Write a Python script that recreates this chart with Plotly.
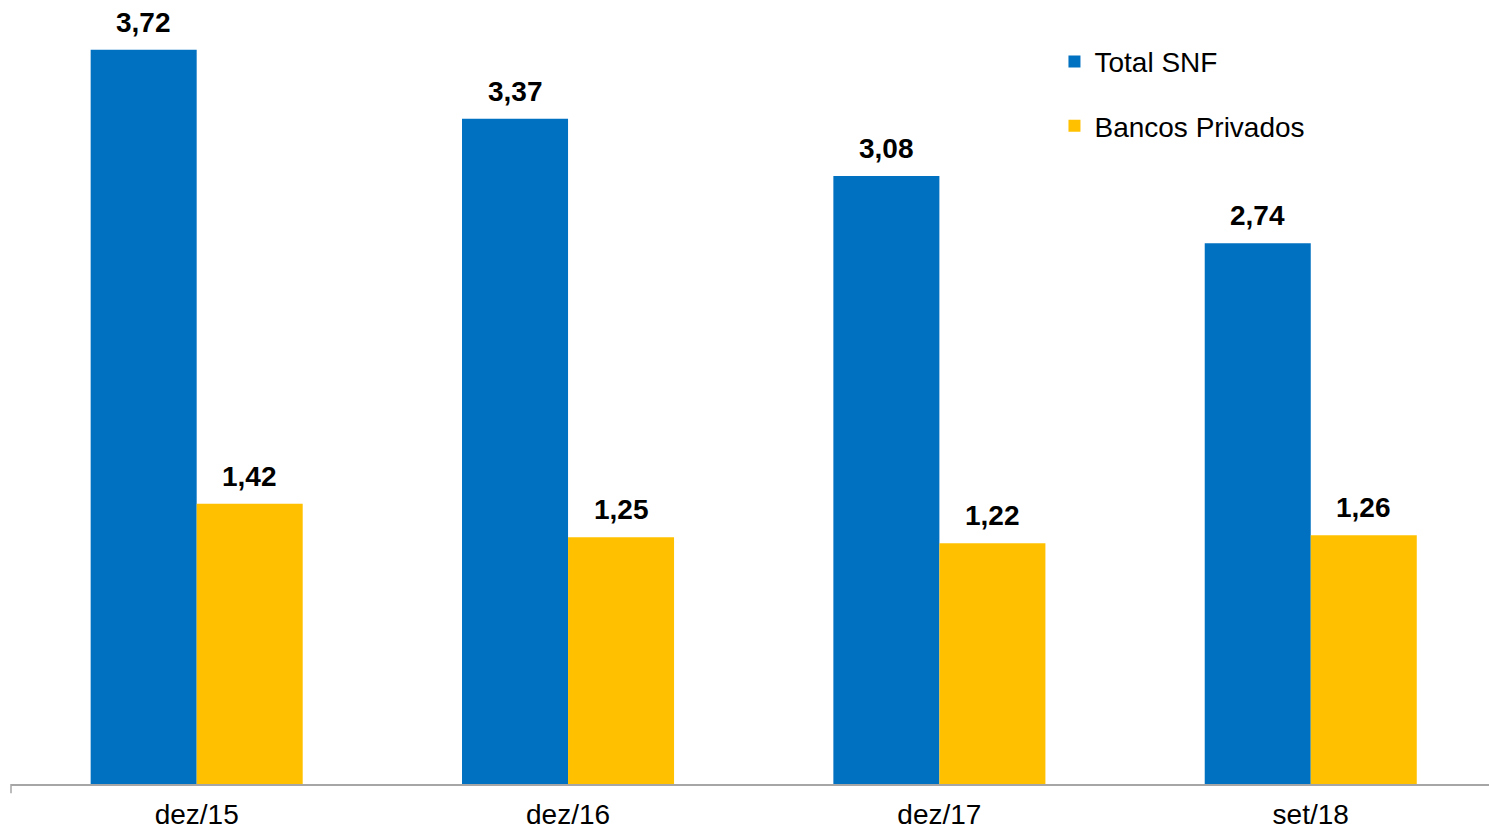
import plotly.graph_objects as go

# Períodos e valores
periodos = ["dez/15", "dez/16", "dez/17", "set/18"]
total_snf = [3.72, 3.37, 3.08, 2.74]
bancos_privados = [1.42, 1.25, 1.22, 1.26]

AZUL = "#0070C0"
AMARELO = "#FFC000"
FONTE = "Liberation Sans, Arial, sans-serif"
TAM = 28

fig = go.Figure()
fig.add_trace(go.Bar(x=periodos, y=total_snf, name="Total SNF", showlegend=True,
                     marker=dict(color=AZUL, line=dict(width=0)), legend="legend"))
fig.add_trace(go.Bar(x=periodos, y=bancos_privados, name="Bancos Privados", showlegend=True,
                     marker=dict(color=AMARELO, line=dict(width=0)), legend="legend2"))

# Rótulos de valor acima de cada barra
for serie, desloc in ((total_snf, -53), (bancos_privados, 53)):
    for p, v in zip(periodos, serie):
        fig.add_annotation(x=p, y=v, text=f"<b>{v:.2f}".replace(".", ",") + "</b>",
                           showarrow=False, yanchor="bottom", xshift=desloc, yshift=10,
                           font=dict(family=FONTE, size=TAM, color="black"))

# Pequeno traço no início do eixo horizontal
fig.add_shape(type="line", xref="paper", yref="paper", x0=0, x1=0, y0=0, y1=-0.012,
              line=dict(color="#A6A6A6", width=1.5))

fig.update_layout(
    width=1489, height=832,
    margin=dict(l=11, r=0, t=10, b=48),
    paper_bgcolor="white", plot_bgcolor="white",
    barmode="group", bargap=0.429, bargroupgap=0,
    showlegend=True,
    font=dict(family=FONTE, size=TAM, color="black"),
    legend=dict(x=0.706, y=0.933, xanchor="left", yanchor="middle",
                font=dict(family=FONTE, size=TAM, color="black"), bgcolor="rgba(0,0,0,0)"),
    legend2=dict(x=0.706, y=0.850, xanchor="left", yanchor="middle",
                 font=dict(family=FONTE, size=TAM, color="black"), bgcolor="rgba(0,0,0,0)"),
    xaxis=dict(range=[-0.5, 3.48], showline=True, linecolor="#A6A6A6", linewidth=1.5,
               ticks="", ticklabelstandoff=5, automargin=False,
               tickfont=dict(family=FONTE, size=TAM, color="black"),
               showgrid=False, zeroline=False, fixedrange=True),
    yaxis=dict(range=[0, 3.921], visible=False, showgrid=False, zeroline=False,
               fixedrange=True, automargin=False),
)

fig.write_html("out.html")
